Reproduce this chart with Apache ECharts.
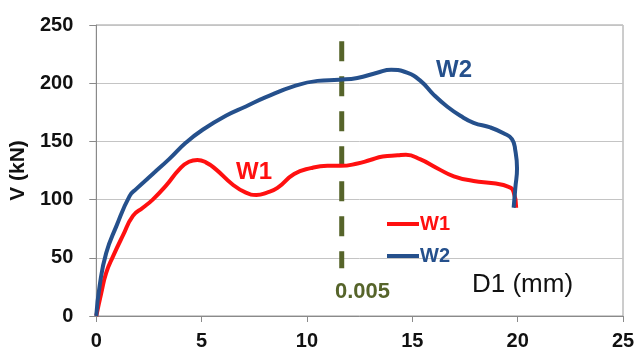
<!DOCTYPE html>
<html>
<head>
<meta charset="utf-8">
<script src="https://cdn.jsdelivr.net/npm/echarts@6/dist/echarts.min.js"></script>
<style>
html,body{margin:0;padding:0;background:#fff;}
#c{width:638px;height:356px;}
</style>
</head>
<body>
<div id="c"></div>
<script>
// Data
var w1X = [0, 0.24, 0.47, 0.79, 1.26, 1.74, 2.21, 2.68, 3.31, 3.94, 4.4, 4.8, 5.2, 5.68, 6.47, 7.1, 7.6, 8.1, 8.6, 9.39, 10.18, 10.97, 11.6, 12.4, 13.0, 13.6, 14.3, 14.7, 15.39, 16.18, 16.97, 17.91, 18.86, 19.57, 19.8, 19.93];
var w1Y = [0, 20, 37, 51, 69, 86, 93, 100, 112, 126, 132.5, 134, 132, 126, 113, 106, 104, 106, 110, 122, 127, 129, 129, 131, 134, 137, 138, 138.5, 134.5, 127, 120, 116, 114, 111, 107, 93];
var w2X = [0, 0.16, 0.47, 0.95, 1.58, 1.89, 2.68, 3.47, 4.26, 5.05, 6.15, 7.1, 8.05, 9.39, 10.5, 11.52, 12.39, 13.33, 14.0, 14.75, 15.39, 16.02, 16.65, 17.28, 17.91, 18.7, 19.33, 19.73, 19.89, 19.97, 19.89, 19.81];
var w2Y = [0, 26, 54, 77, 103, 109, 122, 135, 149, 160, 172, 180, 188, 197.5, 202, 203, 204.5, 209, 211.5, 209, 202, 190, 180, 172, 166, 162, 157, 152, 142, 127, 110, 93];
var limitX = [11.65, 11.65];
var limitY = [236, 41];
var seriesNames = ['W1', 'W2'];
var xTicks = {min: 0, max: 25, interval: 5};
var yTicks = {min: 0, max: 250, interval: 50};

function pairs(xs, ys) { return xs.map(function (x, i) { return [x, ys[i]]; }); }

var RED = '#ff1010', BLUE = '#25508c', OLIVE = '#56642a';
var font = '"Liberation Sans", Arial, sans-serif';

var chart = echarts.init(document.getElementById('c'), null, {renderer: 'canvas'});
chart.setOption({
  backgroundColor: '#ffffff',
  animation: false,
  textStyle: {fontFamily: font},
  grid: {left: 95, right: 15, top: 25, bottom: 40, show: true, borderColor: '#9a9a9a', borderWidth: 1},
  legend: {
    data: [
      {name: seriesNames[0], textStyle: {color: RED}},
      {name: seriesNames[1], textStyle: {color: BLUE}}
    ],
    orient: 'vertical', left: 382, top: 209, itemWidth: 32, itemHeight: 4, itemGap: 12,
    icon: 'rect',
    textStyle: {fontSize: 20, fontWeight: 'bold', fontFamily: font, padding: [0, 0, 0, -4]}
  },
  xAxis: {
    type: 'value', min: xTicks.min, max: xTicks.max, interval: xTicks.interval,
    axisLine: {show: true, onZero: false, lineStyle: {color: '#8a8a8a', width: 1}},
    axisTick: {show: true, inside: false, length: 6, lineStyle: {color: '#8a8a8a'}},
    axisLabel: {fontSize: 20, fontWeight: 'bold', color: '#111', margin: 15, fontFamily: font},
    splitLine: {show: false}
  },
  yAxis: {
    type: 'value', min: yTicks.min, max: yTicks.max, interval: yTicks.interval,
    name: 'V (kN)', nameLocation: 'middle', nameRotate: 90, nameGap: 58,
    nameTextStyle: {fontSize: 21, fontWeight: 'bold', color: '#111', fontFamily: font},
    axisLine: {show: true, lineStyle: {color: '#8a8a8a', width: 1}},
    axisTick: {show: true, inside: false, length: 7, lineStyle: {color: '#8a8a8a'}},
    axisLabel: {fontSize: 20, fontWeight: 'bold', color: '#111', margin: 23, fontFamily: font},
    splitLine: {show: true, lineStyle: {color: '#c4c4c4', width: 1}}
  },
  series: [
    {name: seriesNames[0], type: 'line', data: pairs(w1X, w1Y), smooth: 0.5, symbol: 'none',
     lineStyle: {color: RED, width: 4}, itemStyle: {color: RED}, z: 3},
    {name: seriesNames[1], type: 'line', data: pairs(w2X, w2Y), smooth: 0.5, symbol: 'none',
     lineStyle: {color: BLUE, width: 4}, itemStyle: {color: BLUE}, z: 4},
    {name: 'limit', type: 'line', data: pairs(limitX, limitY), symbol: 'none',
     lineStyle: {color: OLIVE, width: 5, type: [20, 15]}, z: 2}
  ],
  graphic: [
    {type: 'text', left: 236, top: 160, style: {text: 'W1', fill: RED, font: 'bold 24px ' + font}},
    {type: 'text', left: 436, top: 58, style: {text: 'W2', fill: BLUE, font: 'bold 24px ' + font}},
    {type: 'text', left: 335, top: 281, style: {text: '0.005', fill: OLIVE, font: 'bold 22px ' + font}},
    {type: 'text', left: 472, top: 272, style: {text: 'D1 (mm)', fill: '#111', font: '26px ' + font}}
  ]
});
</script>
</body>
</html>
